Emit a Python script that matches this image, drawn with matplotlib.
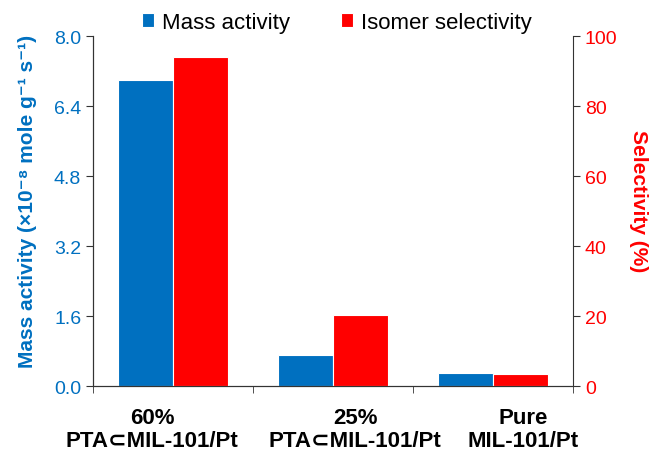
import numpy as np
import matplotlib.pyplot as plt

plt.rcParams['font.family'] = ['Liberation Sans', 'DejaVu Sans']

categories = ["60%\nPTA\u2282MIL-101/Pt", "25%\nPTA\u2282MIL-101/Pt", "Pure\nMIL-101/Pt"]
mass_activity = [7.0, 0.70, 0.29]      # x10^-8 mole g^-1 s^-1
selectivity = [94, 20.2, 3.3]          # %

blue = "#0070C0"
red = "#FF0000"

fig = plt.figure(figsize=(6.5, 4.52), dpi=100)
ax = fig.add_axes([0.143, 0.1438, 0.7385, 0.7742])
ax2 = ax.twinx()

x = np.arange(len(categories))
w = 0.345
b1 = ax.bar(x - 0.174, mass_activity, w, color=blue, edgecolor="white", linewidth=0.8,
            label="Mass activity")
b2 = ax2.bar(x + 0.174, selectivity, w, color=red, edgecolor="white", linewidth=0.8,
             label="Isomer selectivity")

ax.set_xlim(-0.5, 2.5)
ax.set_ylim(0, 8.0)
ax2.set_ylim(0, 100)
ax.set_yticks(np.arange(0, 8.01, 1.6))
ax.set_yticklabels([f"{v:.1f}" for v in np.arange(0, 8.01, 1.6)])
ax2.set_yticks(np.arange(0, 101, 20))

# category labels sit a bit off the bar centres in the original
label_shift = [-0.13, 0.14, 0.19]
ax.set_xticks(x + np.array(label_shift))
ax.set_xticklabels(categories, fontsize=16, fontweight="bold", linespacing=1.12)
ax.set_xticks([-0.5, 0.5, 1.5, 2.5], minor=True)
ax.tick_params(axis="x", which="major", length=0, pad=15)
ax.tick_params(axis="x", which="minor", length=5, direction="out", color="#333333")

ax.tick_params(axis="y", labelcolor=blue, labelsize=14, length=5, color="#333333")
ax2.tick_params(axis="y", labelcolor=red, labelsize=14, length=5, color="#333333")

for a in (ax, ax2):
    a.spines["top"].set_visible(False)
    for s in ("left", "right", "bottom"):
        a.spines[s].set_color("#333333")
ax.spines["right"].set_visible(False)

ax.set_ylabel("Mass activity (\u00d710\u207b\u2078 mole g\u207b\u00b9 s\u207b\u00b9)", color=blue,
              fontsize=15, fontweight="bold")
ax.yaxis.set_label_coords(-0.117, 0.53)
ax2.set_ylabel("Selectivity (%)", color=red, fontsize=15, fontweight="bold", rotation=270)
ax2.yaxis.set_label_coords(1.157, 0.53)

fig.legend(handles=[b1, b2], loc="center", bbox_to_anchor=(0.518, 0.949), ncol=2,
           frameon=False, fontsize=16, handlelength=0.55, handleheight=0.6,
           handletextpad=0.35, columnspacing=2.3)

fig.savefig("out.png", dpi=100)
